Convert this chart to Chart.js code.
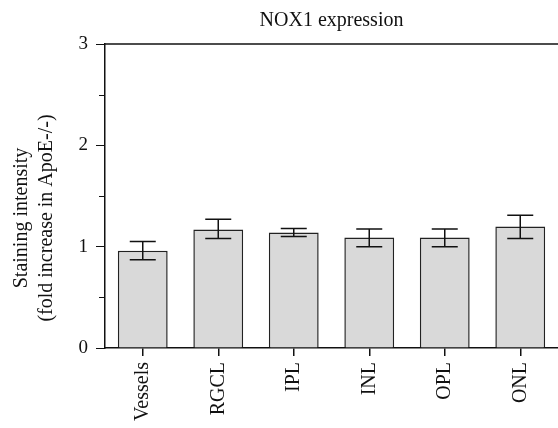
<!DOCTYPE html>
<html>
<head>
<meta charset="utf-8">
<script src="https://cdn.jsdelivr.net/npm/chart.js@4"></script>
<style>
  body { margin: 0; background: #fff; }
  #wrap { width: 558px; height: 428px; }
</style>
</head>
<body>
<div id="wrap"><canvas id="noxChart"></canvas></div>
<script>
// Values
const categories = ['Vessels', 'RGCL', 'IPL', 'INL', 'OPL', 'ONL'];
const meanValues = [0.96, 1.17, 1.14, 1.09, 1.09, 1.20];
const errLow = [0.87, 1.08, 1.10, 1.00, 1.00, 1.08];
const errHigh = [1.05, 1.27, 1.18, 1.175, 1.175, 1.31];
const minorTicks = [0.5, 1.5, 2.5];
const chartTitle = 'NOX1 expression';
const yTitleLines = ['Staining intensity', '(fold increase in ApoE-/-)'];

const serif = '"Liberation Serif", "DejaVu Serif", serif';

// Titles, error bars, minor ticks and the top frame line
const extrasPlugin = {
    id: 'extras',
    afterDatasetsDraw(chart) {
        const ctx = chart.ctx;
        const y = chart.scales.y;
        const area = chart.chartArea;
        ctx.save();
        ctx.strokeStyle = '#111';
        ctx.lineWidth = 1.5;

        // error bars
        const meta = chart.getDatasetMeta(0);
        meta.data.forEach((bar, i) => {
            const cx = bar.x;
            const yHi = y.getPixelForValue(errHigh[i]);
            const yLo = y.getPixelForValue(errLow[i]);
            const cap = 13;
            ctx.beginPath();
            ctx.moveTo(cx, yHi);
            ctx.lineTo(cx, yLo);
            ctx.moveTo(cx - cap, yHi);
            ctx.lineTo(cx + cap, yHi);
            ctx.moveTo(cx - cap, yLo);
            ctx.lineTo(cx + cap, yLo);
            ctx.stroke();
        });

        // minor ticks on the y axis
        ctx.lineWidth = 1;
        minorTicks.forEach(v => {
            const py = Math.round(y.getPixelForValue(v)) + 0.5;
            ctx.beginPath();
            ctx.moveTo(area.left - 6, py);
            ctx.lineTo(area.left, py);
            ctx.stroke();
        });

        // top frame line
        ctx.lineWidth = 1.5;
        ctx.beginPath();
        ctx.moveTo(area.left, area.top);
        ctx.lineTo(chart.width, area.top);
        ctx.stroke();

        // chart title, centred over the plot area
        ctx.fillStyle = '#111';
        ctx.font = '20px ' + serif;
        ctx.textAlign = 'center';
        ctx.textBaseline = 'alphabetic';
        ctx.fillText(chartTitle, (area.left + area.right) / 2, 26);

        // y axis title, two rotated lines
        ctx.textBaseline = 'middle';
        ctx.translate(0, 218);
        ctx.rotate(-Math.PI / 2);
        ctx.fillText(yTitleLines[0], 0, 22);
        ctx.fillText(yTitleLines[1], 0, 47);
        ctx.restore();
    }
};

new Chart(document.getElementById('noxChart'), {
    type: 'bar',
    data: {
        labels: categories,
        datasets: [{
            data: meanValues,
            backgroundColor: '#d9d9d9',
            borderColor: '#222',
            borderWidth: 1.5,
            categoryPercentage: 1,
            barPercentage: 0.66
        }]
    },
    options: {
        responsive: true,
        maintainAspectRatio: false,
        animation: false,
        layout: { padding: { top: 44, right: 0 } },
        plugins: {
            legend: { display: false },
            tooltip: { enabled: false },
            title: { display: false }
        },
        scales: {
            x: {
                afterFit(scale) { scale.height = 80; },
                grid: {
                    display: true,
                    drawOnChartArea: false,
                    offset: false,
                    tickLength: 8,
                    color: '#111',
                    lineWidth: 1.5
                },
                border: { color: '#111', width: 1.5 },
                ticks: {
                    color: '#111',
                    maxRotation: 90,
                    minRotation: 90,
                    padding: 6,
                    font: { family: serif, size: 20 }
                }
            },
            y: {
                min: 0,
                max: 3,
                afterFit(scale) { scale.width = 105; },
                grid: {
                    display: true,
                    drawOnChartArea: false,
                    tickLength: 9,
                    color: '#111',
                    lineWidth: 1
                },
                border: { color: '#111', width: 1.5 },
                ticks: {
                    stepSize: 1,
                    color: '#111',
                    padding: 8,
                    font: { family: serif, size: 19 }
                }
            }
        }
    },
    plugins: [extrasPlugin]
});
</script>
</body>
</html>
